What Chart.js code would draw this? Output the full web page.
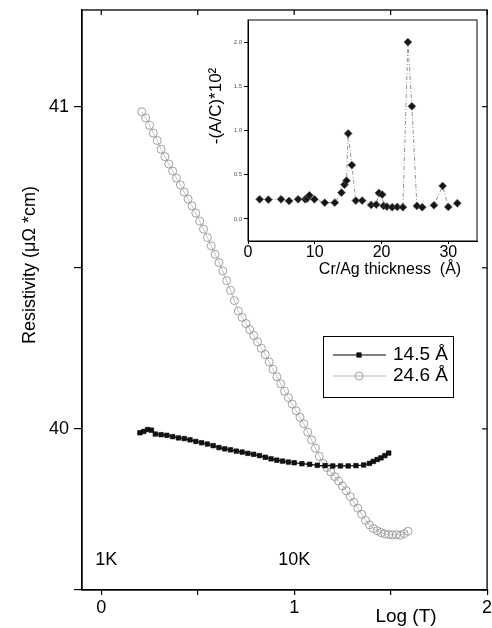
<!DOCTYPE html>
<html><head><meta charset="utf-8">
<script src="https://cdn.jsdelivr.net/npm/chart.js@4.4.1/dist/chart.umd.min.js"></script>
<style>
html,body{margin:0;padding:0;background:#fff;}
#wrap{position:relative;width:492px;height:628px;overflow:hidden;}
#main{position:absolute;left:0;top:0;width:492px;height:628px;}
#inset{position:absolute;left:200px;top:14px;width:284px;height:272px;}
</style></head><body>
<div id="wrap"><canvas id="main" width="492" height="628"></canvas><canvas id="inset" width="284" height="272"></canvas></div>
<script>
// ---- data ----
const seriesNames = ['14.5 Å', '24.6 Å'];
const squareLogT = [0.20,0.22,0.24,0.26,0.28,0.31,0.34,0.37,0.40,0.43,0.46,0.49,0.52,0.55,0.58,0.61,0.64,0.67,0.70,0.73,0.76,0.79,0.82,0.85,0.88,0.91,0.94,0.97,1.00,1.04,1.08,1.12,1.16,1.20,1.24,1.28,1.32,1.36,1.39,1.41,1.43,1.45,1.47,1.49];
const squareRho = [39.988,39.992,39.998,39.996,39.984,39.982,39.980,39.976,39.972,39.970,39.966,39.961,39.957,39.953,39.948,39.942,39.938,39.935,39.931,39.928,39.924,39.921,39.917,39.912,39.907,39.903,39.900,39.897,39.895,39.892,39.890,39.887,39.886,39.885,39.885,39.885,39.886,39.888,39.893,39.899,39.905,39.910,39.917,39.925];
const circleLogT = [0.21,0.23,0.25,0.27,0.29,0.31,0.33,0.35,0.37,0.39,0.41,0.43,0.45,0.47,0.49,0.51,0.53,0.55,0.57,0.59,0.61,0.63,0.65,0.67,0.69,0.71,0.73,0.75,0.77,0.79,0.81,0.83,0.85,0.87,0.89,0.91,0.93,0.95,0.97,0.99,1.01,1.03,1.05,1.07,1.09,1.11,1.13,1.15,1.17,1.19,1.21,1.23,1.25,1.27,1.29,1.31,1.33,1.35,1.37,1.39,1.41,1.43,1.45,1.47,1.49,1.51,1.53,1.55,1.57,1.59];
const circleRho = [40.984,40.965,40.942,40.918,40.895,40.868,40.845,40.822,40.800,40.778,40.757,40.735,40.713,40.692,40.670,40.645,40.620,40.594,40.568,40.542,40.516,40.490,40.460,40.430,40.398,40.366,40.346,40.327,40.308,40.290,40.270,40.250,40.231,40.208,40.185,40.162,40.140,40.117,40.097,40.077,40.056,40.036,40.016,39.990,39.966,39.940,39.915,39.893,39.880,39.866,39.852,39.838,39.823,39.808,39.790,39.772,39.754,39.735,39.716,39.702,39.691,39.684,39.678,39.674,39.672,39.671,39.672,39.670,39.675,39.682];
const xTickValues = [0,0.5,1,1.5,2];
const xTickLabels = ['0','','1','','2'];
const yTickValues = [39.5,40,40.5,41];
const yTickLabels = ['','40','','41'];
const tempMarkLogT = [0,1];
const tempMarkLabels = ['1K','10K'];
const xTitle = 'Log (T)';
const yTitle = 'Resistivity (\u03bc\u03a9 *cm)';

// inset
const thickness = [1.75,3.05,4.95,6.15,7.5,8.55,8.85,9.2,9.95,11.5,13.0,14.0,14.45,14.75,15.0,15.55,16.15,17.1,18.45,19.2,19.6,20.1,20.3,20.8,21.6,22.35,23.2,23.95,24.55,25.3,26.1,27.85,29.15,30.0,31.35];
const ratioAC = [0.222,0.218,0.222,0.203,0.222,0.222,0.23,0.267,0.222,0.184,0.184,0.297,0.387,0.432,0.966,0.609,0.207,0.207,0.158,0.162,0.293,0.275,0.147,0.139,0.132,0.135,0.132,2.0,1.274,0.147,0.132,0.154,0.373,0.135,0.177];
const insetXTicks = [0,10,20,30];
const insetXTickLabels = ['0','10','20','30'];
const insetYTicks = [0,0.5,1,1.5,2];
const insetYTickLabels = ['0.0','0.5','1.0','1.5','2.0'];
const insetXTitle = 'Cr/Ag thickness  (\u00c5)';
const insetYTitle = '-(A/C)*10\u00b2';

// ---- drawing ----
const FF = "'Liberation Sans', Arial, Helvetica, sans-serif";

const mainDeco = {
  id:'mainDeco',
  afterDraw(chart){
    const ctx = chart.ctx, a = chart.chartArea, sx = chart.scales.x, sy = chart.scales.y;
    ctx.save();
    ctx.strokeStyle = '#000'; ctx.lineWidth = 1.3;
    ctx.strokeRect(a.left, a.top, a.right - a.left, a.bottom - a.top);
    ctx.lineWidth = 1.2;
    xTickValues.forEach(v => { const px = sx.getPixelForValue(v); ctx.beginPath(); ctx.moveTo(px, a.top); ctx.lineTo(px, a.top + 5); ctx.stroke(); });
    yTickValues.forEach(v => { const py = sy.getPixelForValue(v); ctx.beginPath(); ctx.moveTo(a.right, py); ctx.lineTo(a.right - 5, py); ctx.stroke(); });
    ctx.fillStyle = '#000';
    ctx.font = '18px ' + FF; ctx.textAlign = 'center'; ctx.textBaseline = 'middle';
    tempMarkLogT.forEach((v, i) => ctx.fillText(tempMarkLabels[i], sx.getPixelForValue(v) + (i === 0 ? 5 : 0), 560));
    ctx.font = '19px ' + FF;
    ctx.fillText(xTitle, 406, 617);
    ctx.save(); ctx.translate(30, 265); ctx.rotate(-Math.PI/2); ctx.font = '18px ' + FF; ctx.fillText(yTitle, 0, 0); ctx.restore();
    // legend
    ctx.lineWidth = 1; ctx.strokeStyle = '#000';
    ctx.strokeRect(323.5, 336.5, 130, 61);
    chart.data.datasets.forEach((ds, i) => {
      const yy = 355 + i * 21;
      ctx.strokeStyle = ds.borderColor; ctx.lineWidth = 1;
      ctx.beginPath(); ctx.moveTo(333, yy); ctx.lineTo(386, yy); ctx.stroke();
      ctx.fillStyle = ds.pointBackgroundColor; ctx.strokeStyle = ds.pointBorderColor; ctx.lineWidth = ds.pointBorderWidth;
      Chart.helpers.drawPoint(ctx, {pointStyle: ds.pointStyle, radius: ds.pointRadius, rotation: 0, borderWidth: ds.pointBorderWidth}, 359, yy);
      ctx.fillStyle = '#000'; ctx.font = '19px ' + FF; ctx.textAlign = 'left';
      ctx.fillText(ds.label, 393, yy);
    });
    ctx.restore();
  }
};

new Chart(document.getElementById('main'), {
  type: 'line',
  data: { datasets: [
    { label: seriesNames[0], data: squareLogT.map((x, i) => ({x, y: squareRho[i]})),
      borderColor: '#000', borderWidth: 1.2, pointStyle: 'rect', pointRadius: 3.2,
      pointBackgroundColor: '#111', pointBorderColor: '#000', pointBorderWidth: 0.6, tension: 0 },
    { label: seriesNames[1], data: circleLogT.map((x, i) => ({x, y: circleRho[i]})),
      borderColor: '#b5b5b5', borderWidth: 0.8, pointStyle: 'circle', pointRadius: 4,
      pointBackgroundColor: 'rgba(255,255,255,0)', pointBorderColor: '#969696', pointBorderWidth: 0.9, tension: 0 }
  ]},
  options: {
    responsive: false, animation: false, devicePixelRatio: 1,
    layout: { padding: { top: 10, right: 4, left: 0, bottom: 0 } },
    plugins: { legend: { display: false }, tooltip: { enabled: false } },
    scales: {
      x: { type: 'linear', min: -0.1, max: 2.0,
        afterBuildTicks: s => { s.ticks = xTickValues.map(v => ({value: v})); },
        afterFit: s => { s.height = 38; s.paddingLeft = 0; s.paddingRight = 0; },
        ticks: { callback: v => xTickLabels[xTickValues.indexOf(v)], font: { family: FF, size: 18 }, color: '#000', padding: 2, maxRotation: 0, autoSkip: false },
        grid: { drawOnChartArea: false, drawTicks: true, tickLength: 5, color: '#000', lineWidth: 1.2 },
        border: { display: true, color: '#000', width: 1.3 } },
      y: { type: 'linear', min: 39.5, max: 41.3,
        afterBuildTicks: s => { s.ticks = yTickValues.map(v => ({value: v})); },
        afterFit: s => { s.width = 82; s.paddingTop = 0; s.paddingBottom = 0; },
        ticks: { callback: v => yTickLabels[yTickValues.indexOf(v)], font: { family: FF, size: 18 }, color: '#000', padding: 5, autoSkip: false },
        grid: { drawOnChartArea: false, drawTicks: true, tickLength: 8, color: '#000', lineWidth: 1.2 },
        border: { display: true, color: '#000', width: 1.3 } }
    }
  },
  plugins: [mainDeco]
});

const insetDeco = {
  id: 'insetDeco',
  afterDraw(chart){
    const ctx = chart.ctx, a = chart.chartArea;
    ctx.save();
    ctx.strokeStyle = '#000'; ctx.lineWidth = 1;
    ctx.strokeRect(a.left, a.top, a.right - a.left, a.bottom - a.top);
    ctx.fillStyle = '#000'; ctx.textAlign = 'center'; ctx.textBaseline = 'middle';
    ctx.font = '16px ' + FF;
    ctx.fillText(insetXTitle, 190, 256);
    ctx.save(); ctx.translate(16, 92); ctx.rotate(-Math.PI/2); ctx.font = '17px ' + FF; ctx.fillText(insetYTitle, 0, 0); ctx.restore();
    ctx.restore();
  }
};

new Chart(document.getElementById('inset'), {
  type: 'line',
  data: { datasets: [{
    data: thickness.map((x, i) => ({x, y: ratioAC[i]})),
    borderColor: '#7a7a7a', borderWidth: 0.8, borderDash: [4, 2, 1, 2],
    pointStyle: 'rectRot', pointRadius: 3.9, pointBackgroundColor: '#151515', pointBorderColor: '#555', pointBorderWidth: 0.8, tension: 0 }]},
  options: {
    responsive: false, animation: false, devicePixelRatio: 1,
    layout: { padding: { top: 6, right: 7, left: 0, bottom: 0 } },
    plugins: { legend: { display: false }, tooltip: { enabled: false } },
    scales: {
      x: { type: 'linear', min: 0, max: 34.3,
        afterBuildTicks: s => { s.ticks = insetXTicks.map(v => ({value: v})); },
        afterFit: s => { s.height = 45; s.paddingLeft = 0; s.paddingRight = 0; },
        ticks: { callback: v => insetXTickLabels[insetXTicks.indexOf(v)], font: { family: FF, size: 16 }, color: '#000', padding: -1, maxRotation: 0, autoSkip: false },
        grid: { drawOnChartArea: false, drawTicks: true, tickLength: 3, color: '#000', lineWidth: 1 },
        border: { display: true, color: '#000', width: 1 } },
      y: { type: 'linear', min: -0.25, max: 2.25,
        afterBuildTicks: s => { s.ticks = insetYTicks.map(v => ({value: v})); },
        afterFit: s => { s.width = 48; s.paddingTop = 0; s.paddingBottom = 0; },
        ticks: { callback: v => insetYTickLabels[insetYTicks.indexOf(v)], font: { family: FF, size: 6 }, color: '#555', padding: 2, autoSkip: false },
        grid: { drawOnChartArea: false, drawTicks: true, tickLength: 4, color: '#000', lineWidth: 1 },
        border: { display: true, color: '#000', width: 1 } }
    }
  },
  plugins: [insetDeco]
});
</script>
</body></html>
